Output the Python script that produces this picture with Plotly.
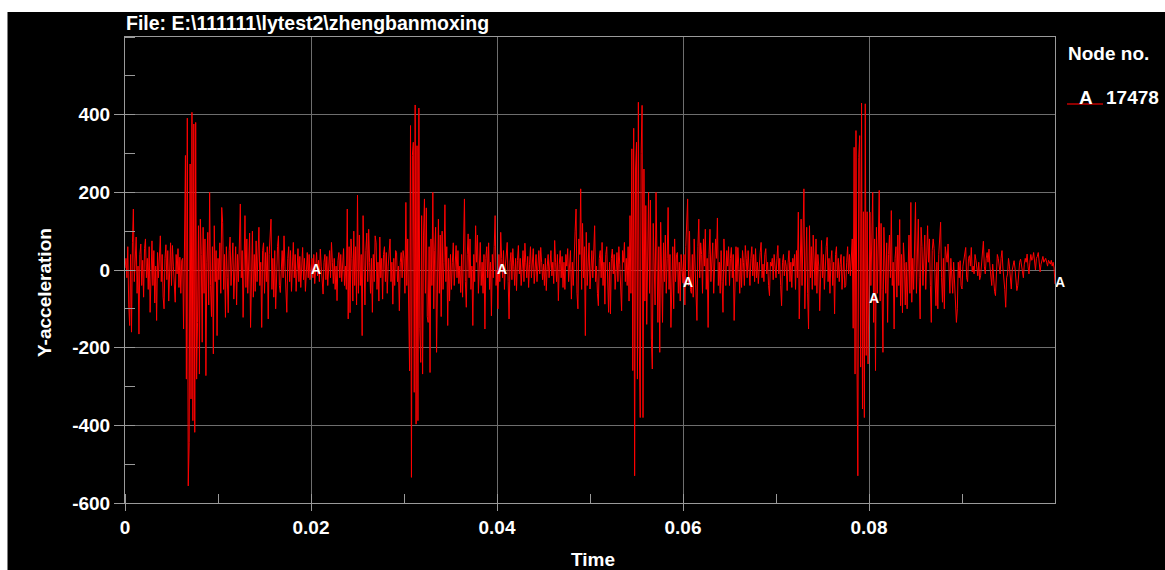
import plotly.graph_objects as go

# ---------------- text ----------------
file_title = "File: E:\\111111\\lytest2\\zhengbanmoxing"
legend_heading = "Node no."
node_label = "A"
node_id = "17478"
x_label = "Time"
y_label = "Y-acceleration"

# ---------------- data ----------------
time_step = 0.0001  # output sampling interval of the curve

accel_00_10ms = [
    5, 30, -20, 60, -90, -143, 40, -160, 70, 157,
    -30, 20, 85, -60, 10, -165, 40, 67, -40, 25,
    -70, 55, 80, -20, 30, -50, 60, -109, 20, 75,
    -40, 50, -85, 10, -130, 45, -20, 60, 88, -30,
    40, -70, -100, 30, 65, -25, 50, -80, 20, 70,
    -40, 63, 10, -55, -83, 40, -10, 55, -45, 33,
    -60, 25, 30, -152, 123, 295, -281, 391, -556, -444,
    273, -332, 406, -388, 376, -418, 380, -281, -135, 114,
    -268, 131, 40, -186, 110, -60, 80, -272, 20, 97,
    -90, 200, -40, -120, 60, -216, 114, -30, 50, -169,
]
accel_10_20ms = [
    30, -25, 70, -60, 161, 123, -50, 40, -122, 60,
    -20, -110, 50, 85, -40, 30, 70, -75, 15, 60,
    -90, 40, -30, 90, 170, -20, 50, -122, 30, 140,
    -45, 80, -60, 20, 95, -148, 25, 100, -70, 40,
    -55, 75, -30, 60, 110, -40, 20, -148, 50, 70,
    -60, 45, -30, 60, -126, 40, 90, 131, -50, 30,
    -70, 50, -100, 20, 60, 88, -40, -58, 30, 50,
    -20, 88, 10, -60, -109, 30, 60, -30, 50, -55,
    20, 71, -20, 40, -55, 10, 55, -30, 35, -45,
    20, 58, -25, 30, -55, 15, 45, -20, 40, -25,
]
accel_20_30ms = [
    0, 30, -20, 40, -35, 20, 45, -15, 25, -30,
    54, 10, -40, -62, 20, 40, -25, 35, -40, 15,
    50, -20, 71, 20, -35, 30, -50, 10, -79, 25,
    45, -20, 40, -30, 35, 55, -40, 10, -50, 157,
    -126, 60, -110, 80, 30, -80, 100, -40, 60, -90,
    193, -60, 90, -40, 40, -169, 140, -20, -90, 50,
    95, -30, 105, 20, -60, 30, -109, 40, -30, 88,
    70, -50, 20, -80, 85, -20, 30, -75, 40, 60,
    -30, 45, -60, 10, 55, 80, -30, 20, -88, 30,
    -40, 50, 45, -30, 10, -105, 20, 45, -20, 50,
]
accel_30_40ms = [
    30, -60, 174, -40, 80, -120, -260, 372, -534, 295,
    329, -315, 425, -397, 320, -388, 417, -150, -238, 140,
    -268, 90, 183, -60, 160, -120, -135, 60, -264, 80,
    -40, 200, -100, 50, 110, -212, 30, 131, -60, 90,
    -120, 100, -50, 20, 168, -30, 60, -143, 30, -80,
    40, -50, 20, 70, -40, 30, 63, -20, 50, -35,
    10, -58, 40, -70, 136, 183, -30, -96, 40, 93,
    -20, 80, -50, 10, -143, 40, -30, 114, 20, 90,
    -60, 30, 71, -40, 20, -60, 40, -152, 30, 60,
    -20, 70, -50, 20, -118, 40, -20, 60, 140, -40,
]
accel_40_50ms = [
    0, -100, 40, -30, 97, 30, -20, 50, -50, 10,
    40, 71, -30, -126, 20, 45, -25, 55, 10, -40,
    30, -53, 25, 63, -10, 30, -40, 20, 50, -30,
    69, 20, -20, 35, -45, 15, 60, -20, 30, 55,
    -35, 10, 40, -30, 25, 50, -10, 58, 20, -25,
    15, -40, 30, -53, 10, 40, -20, 30, 50, -15,
    20, -35, 76, 20, -30, 40, -79, 15, 50, -20,
    35, -45, 20, -50, 40, 10, 55, -30, 25, 50,
    -75, 20, -40, 60, 100, 157, -60, -100, 80, 40,
    209, -50, 120, -20, 60, -169, 97, -40, 30, 70,
]
accel_50_60ms = [
    -49, 20, 50, -20, 40, 114, -30, 10, -60, -92,
    30, 50, -20, 71, -40, 20, -88, 40, 60, -30,
    -109, 20, -113, 30, 54, -10, 40, -50, 20, 45,
    -30, 60, 15, -40, -105, 50, 20, 71, -30, 30,
    -40, 60, -80, 140, -60, 312, -259, 365, -530, 260,
    329, -281, 432, -200, -380, 300, 424, -380, 260, -80,
    166, -140, 90, 200, -60, 180, -178, -255, 120, 40,
    -90, 200, -40, -135, 60, -212, 123, 20, -135, 70,
    -30, 90, -60, 30, 161, -50, 40, -148, 20, 60,
    -100, 80, -30, 40, 45, -60, 20, -80, 40, -20,
]
accel_60_70ms = [
    -34, 40, -90, 60, 120, 183, -40, 100, -50, -60,
    40, -70, 80, 20, -50, -130, 60, 131, -20, 70,
    40, -60, 80, 10, 105, -50, 30, -148, 40, 105,
    -30, 50, 70, -60, 20, 80, 30, 134, -40, 20,
    -60, 50, -30, -109, 80, 20, -40, 50, 10, 60,
    -40, 30, 58, -20, 40, -130, 20, 60, -30, 58,
    10, -60, 30, -45, 50, 20, -40, 63, 30, -20,
    50, 10, -40, 30, 60, -15, 40, -30, 55, -20,
    20, -35, 30, 45, 71, -20, 15, -30, 40, 55,
    -10, 20, -40, -66, 20, 10, 30, -25, 40, 10,
]
accel_70_80ms = [
    -20, 30, 63, -10, 30, -40, -92, 20, 40, -15,
    25, 10, -53, 20, 50, -30, 20, -45, 30, 10,
    40, -50, 50, -20, 149, -126, 60, 131, -40, 80,
    209, -100, 50, 110, -60, -152, 114, -20, 60, -50,
    90, 20, -40, 80, -60, 40, 10, -105, 30, 76,
    -20, 40, -50, 20, 60, 84, -30, 30, -60, 20,
    50, -40, 20, -113, 40, 60, -20, 30, -30, 15,
    40, -50, 20, 35, -45, -40, 20, 60, -10, 40,
    -15, 25, 80, -150, 316, -268, 359, -200, -530, 290,
    346, -250, 430, -358, 150, -380, 428, -220, 150, -242,
]
accel_80_90ms = [
    -75, 149, -40, 60, 200, -135, 80, -259, 110, -60,
    40, 205, -80, 120, -50, -212, 110, 30, -60, 70,
    -135, 40, 90, -20, 153, -40, 20, -152, 30, 60,
    -70, 90, -40, 130, -92, 40, -110, 70, 20, -90,
    20, -100, 40, 90, -60, 174, -83, 30, -50, 60,
    174, -60, 40, 131, -20, -126, 110, 60, -40, 30,
    90, -50, 40, 114, 20, 80, -40, -135, 50, 80,
    55, -30, -92, 20, -100, 40, 70, 123, -20, -83,
    30, -100, 60, 40, 20, 67, -20, -60, 30, -30,
    -60, 20, -30, -80, -135, -100, 20, -20, 24, -40,
]
accel_90_100ms = [
    -49, 10, 30, 40, 58, -20, -30, 30, 37, 10,
    58, -5, 10, -10, 40, 25, 5, -15, 20, -25,
    -15, 20, 50, 74, 10, -10, 30, 45, 20, 54,
    10, -20, -40, 15, -30, -55, -66, 20, 40, 30,
    10, -10, 30, 50, 5, -20, -50, -96, -20, -10,
    30, 10, -30, -49, 0, 20, 24, 5, -30, -53,
    -40, 10, 20, 28, 10, -15, -20, 15, 30, 20,
    41, 10, -10, 20, 40, 25, 30, 45, 10, 0,
    30, 35, 45, 20, -5, 15, 30, 35, 20, 25,
    30, 20, 10, 25, 20, 15, 25, 10, 20, 5,
    -36,
]

accel = (accel_00_10ms + accel_10_20ms + accel_20_30ms + accel_30_40ms
         + accel_40_50ms + accel_50_60ms + accel_60_70ms + accel_70_80ms
         + accel_80_90ms + accel_90_100ms)
time = [round(i * time_step, 6) for i in range(len(accel))]

# curve symbol "A" positions
marker_times = [0.02, 0.04, 0.06, 0.08, 0.1]
marker_values = [accel[min(round(t / time_step), len(accel) - 1)] for t in marker_times]

x_ticks = [0, 0.02, 0.04, 0.06, 0.08]
x_tick_labels = ["0", "0.02", "0.04", "0.06", "0.08"]
y_ticks = [-600, -400, -200, 0, 200, 400]
y_tick_labels = ["-600", "-400", "-200", "0", "200", "400"]

# ---------------- layout geometry ----------------
W, H = 1165, 570
L, R, T, B = 125, 110, 37, 67
PW, PH = W - L - R, H - T - B


def px(x):
    return (x - L) / PW


def py(y):
    return (H - B - y) / PH


FONT = "Liberation Sans, Arial, sans-serif"
AX = "#9a9a9a"
GRID = "#6e6e6e"
FS = 19

fig = go.Figure()
fig.add_trace(go.Scatter(
    x=time, y=accel, mode="lines",
    line=dict(color="#ff0000", width=1),
    hoverinfo="skip", showlegend=False,
))
fig.add_trace(go.Scatter(
    x=marker_times, y=marker_values, mode="text",
    text=[node_label] * len(marker_times),
    textposition="middle right",
    textfont=dict(color="white", size=14, family=FONT, weight="bold"),
    cliponaxis=False, hoverinfo="skip", showlegend=False,
))

axis_common = dict(
    showgrid=True, gridcolor=GRID, gridwidth=1,
    showline=True, linecolor=AX, linewidth=1, mirror=True,
    ticks="outside", tickcolor=AX, tickwidth=1,
    tickfont=dict(color="white", size=FS, family=FONT, weight="bold"),
    zeroline=False, fixedrange=True,
)

fig.update_layout(
    width=W, height=H,
    margin=dict(l=L, r=R, t=T, b=B, pad=0),
    paper_bgcolor="white", plot_bgcolor="black",
    xaxis=dict(range=[0, 0.1], tickmode="array", tickvals=x_ticks,
               ticktext=x_tick_labels, ticklen=7,
               minor=dict(dtick=0.01, tick0=0, ticks="inside", ticklen=9,
                          tickcolor=AX, showgrid=False),
               **axis_common),
    yaxis=dict(range=[-600, 600], tickmode="array", tickvals=y_ticks,
               ticktext=y_tick_labels, ticklen=10,
               minor=dict(dtick=100, tick0=0, ticks="inside", ticklen=10,
                          tickcolor=AX, showgrid=False),
               **axis_common),
    shapes=[
        dict(type="rect", xref="paper", yref="paper", layer="below",
             x0=px(7.5), x1=px(W + 5), y0=py(H + 5), y1=py(12),
             fillcolor="black", line=dict(width=0)),
        dict(type="line", xref="paper", yref="paper",
             x0=px(1067), x1=px(1103), y0=py(104), y1=py(104),
             line=dict(color="#c00000", width=1.5)),
    ],
    annotations=[
        dict(text=file_title, xref="paper", yref="paper", x=px(124), y=py(23),
             xanchor="left", yanchor="middle", showarrow=False,
             font=dict(color="white", size=FS + 0.5, family=FONT, weight="bold")),
        dict(text=legend_heading, xref="paper", yref="paper", x=px(1066), y=py(53),
             xanchor="left", yanchor="middle", showarrow=False,
             font=dict(color="white", size=FS, family=FONT, weight="bold")),
        dict(text=node_label, xref="paper", yref="paper", x=px(1077), y=py(97),
             xanchor="left", yanchor="middle", showarrow=False,
             font=dict(color="white", size=FS, family=FONT, weight="bold")),
        dict(text=node_id, xref="paper", yref="paper", x=px(1104), y=py(97),
             xanchor="left", yanchor="middle", showarrow=False,
             font=dict(color="white", size=FS, family=FONT, weight="bold")),
        dict(text=y_label, xref="paper", yref="paper", x=px(44), y=py(293),
             xanchor="center", yanchor="middle", textangle=-90, showarrow=False,
             font=dict(color="white", size=FS, family=FONT, weight="bold")),
        dict(text=x_label, xref="paper", yref="paper", x=px(593), y=py(559),
             xanchor="center", yanchor="middle", showarrow=False,
             font=dict(color="white", size=FS, family=FONT, weight="bold")),
    ],
)

fig.write_html("out.html")
